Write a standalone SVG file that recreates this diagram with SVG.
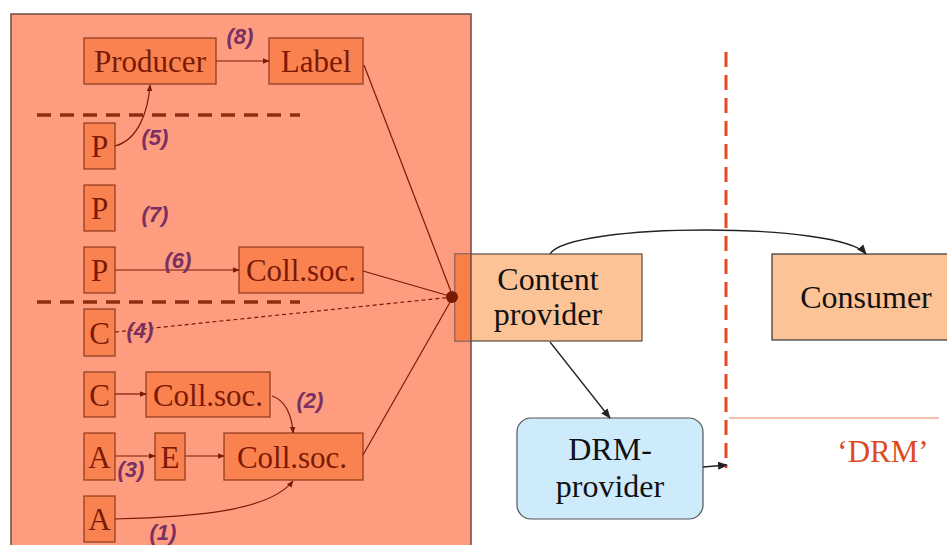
<svg xmlns="http://www.w3.org/2000/svg" width="947" height="545" viewBox="0 0 947 545">
<style>
.box{fill:#FA8150;stroke:#8B3A1A;stroke-width:1.2}
.t{font-size:31px;fill:#7A1A05;text-anchor:middle}
.n{font-size:22px;font-weight:bold;font-style:italic;fill:#7A3060;text-anchor:middle}
.c{fill:none;stroke:#7A1A05;stroke-width:1.2}
.k{fill:none;stroke:#222;stroke-width:1.3}
.rt{font-size:32px;fill:#111;text-anchor:middle}
</style>
<defs>
<marker id="ar" viewBox="0 0 10 10" refX="9" refY="5" markerWidth="7" markerHeight="7" markerUnits="userSpaceOnUse" orient="auto"><path d="M0,1 L10,5 L0,9 z" fill="#7A1A05"/></marker>
<marker id="ak" viewBox="0 0 10 10" refX="9" refY="5" markerWidth="10" markerHeight="10" markerUnits="userSpaceOnUse" orient="auto"><path d="M0,1 L10,5 L0,9 z" fill="#222"/></marker>
</defs>
<rect x="0" y="0" width="947" height="545" fill="#fff"/>
<rect id="panel" x="11" y="14" width="460" height="540" fill="#FE9C80" stroke="#6B4A40" stroke-width="1.5"/>
<g id="boundaries">
<line x1="37" y1="115" x2="300" y2="115" stroke="#8B2E10" stroke-width="3.5" stroke-dasharray="14,9"/>
<line x1="37" y1="302" x2="300" y2="302" stroke="#8B2E10" stroke-width="3.5" stroke-dasharray="14,9"/>
<line x1="726" y1="52" x2="726" y2="468" stroke="#E84820" stroke-width="3" stroke-dasharray="15,8"/>
<line x1="729" y1="418" x2="939" y2="418" stroke="#F08060" stroke-width="1.2"/>
</g>
<g id="nodes" font-family="Liberation Serif, Times New Roman, serif">
<g id="producer"><rect class="box" x="84" y="38" width="132" height="46"/><text class="t" x="150" y="72">Producer</text></g>
<g id="label"><rect class="box" x="269" y="38" width="94" height="46"/><text class="t" x="316" y="72">Label</text></g>
<g id="p1"><rect class="box" x="84" y="123" width="31" height="46"/><text class="t" x="99.5" y="157">P</text></g>
<g id="p2"><rect class="box" x="84" y="185" width="31" height="46"/><text class="t" x="99.5" y="219">P</text></g>
<g id="p3"><rect class="box" x="84" y="247" width="31" height="46"/><text class="t" x="99.5" y="281">P</text></g>
<g id="collsoc1"><rect class="box" x="239" y="247" width="124" height="46"/><text class="t" x="301" y="281">Coll.soc.</text></g>
<g id="c1"><rect class="box" x="84" y="309" width="31" height="47"/><text class="t" x="99.5" y="344">C</text></g>
<g id="c2"><rect class="box" x="84" y="372" width="31" height="45"/><text class="t" x="99.5" y="406">C</text></g>
<g id="collsoc2"><rect class="box" x="146" y="372" width="124" height="45"/><text class="t" x="208" y="406">Coll.soc.</text></g>
<g id="a1"><rect class="box" x="84" y="433" width="31" height="47"/><text class="t" x="99.5" y="468">A</text></g>
<g id="e"><rect class="box" x="155" y="433" width="30" height="47"/><text class="t" x="170" y="468">E</text></g>
<g id="collsoc3"><rect class="box" x="224" y="433" width="139" height="47"/><text class="t" x="292" y="468">Coll.soc.</text></g>
<g id="a2"><rect class="box" x="84" y="496" width="31" height="46"/><text class="t" x="99.5" y="530">A</text></g>
<g id="content-provider">
<rect x="455" y="254" width="187" height="87" fill="#FCC397" stroke="#5A4A40" stroke-width="1.2"/>
<rect x="455.6" y="254.6" width="15.4" height="85.8" fill="#FA7E48"/>
<line x1="471" y1="254" x2="471" y2="341" stroke="#6B4A40" stroke-width="1.5"/>
<text class="rt" x="548" y="290">Content</text><text class="rt" x="548" y="325">provider</text>
</g>
<g id="consumer"><rect x="772" y="254" width="185" height="86" fill="#FCC397" stroke="#333" stroke-width="1.2"/><text class="rt" x="866" y="308">Consumer</text></g>
<g id="drm-provider"><rect x="517" y="418" width="186" height="101" rx="14" fill="#CDEBFA" stroke="#555" stroke-width="1.2"/><text class="rt" x="610" y="460">DRM-</text><text class="rt" x="610" y="497">provider</text></g>
<text id="drm" x="883" y="462" font-size="31" fill="#E04A1E" text-anchor="middle">‘DRM’</text>
</g>
<g id="connectors">
<line class="c" x1="216" y1="61" x2="269" y2="61" marker-end="url(#ar)"/>
<path class="c" d="M115,146 C138,140 148,112 150,85" marker-end="url(#ar)"/>
<line class="c" x1="115" y1="270" x2="239" y2="270" marker-end="url(#ar)"/>
<line class="c" x1="115" y1="394" x2="146" y2="394" marker-end="url(#ar)"/>
<path class="c" d="M272,396 C285,400 292,415 293,433" marker-end="url(#ar)"/>
<line class="c" x1="115" y1="456" x2="155" y2="456" marker-end="url(#ar)"/>
<line class="c" x1="185" y1="456" x2="224" y2="456" marker-end="url(#ar)"/>
<path class="c" d="M115,519 C200,517 270,510 293,481" marker-end="url(#ar)"/>
<line class="c" x1="364" y1="65" x2="453" y2="297"/>
<line class="c" x1="363" y1="271" x2="453" y2="297"/>
<line class="c" x1="363" y1="455" x2="453" y2="297"/>
<line class="c" x1="115" y1="332" x2="453" y2="297" stroke-dasharray="4,3"/>
<circle cx="452" cy="297" r="6" fill="#7A1A05"/>
<path class="k" d="M550,254 C570,222 840,222 866,254" marker-end="url(#ak)"/>
<line class="k" x1="550" y1="342" x2="610" y2="418" marker-end="url(#ak)"/>
<line class="k" x1="703" y1="467" x2="727" y2="465" marker-end="url(#ak)"/>
</g>
<g id="numbers" font-family="Liberation Sans, Arial, sans-serif">
<text class="n" x="240" y="44">(8)</text>
<text class="n" x="155" y="145">(5)</text>
<text class="n" x="155" y="222">(7)</text>
<text class="n" x="178" y="268">(6)</text>
<text class="n" x="140" y="338">(4)</text>
<text class="n" x="310" y="408">(2)</text>
<text class="n" x="131" y="477">(3)</text>
<text class="n" x="163" y="540">(1)</text>
</g>
</svg>
